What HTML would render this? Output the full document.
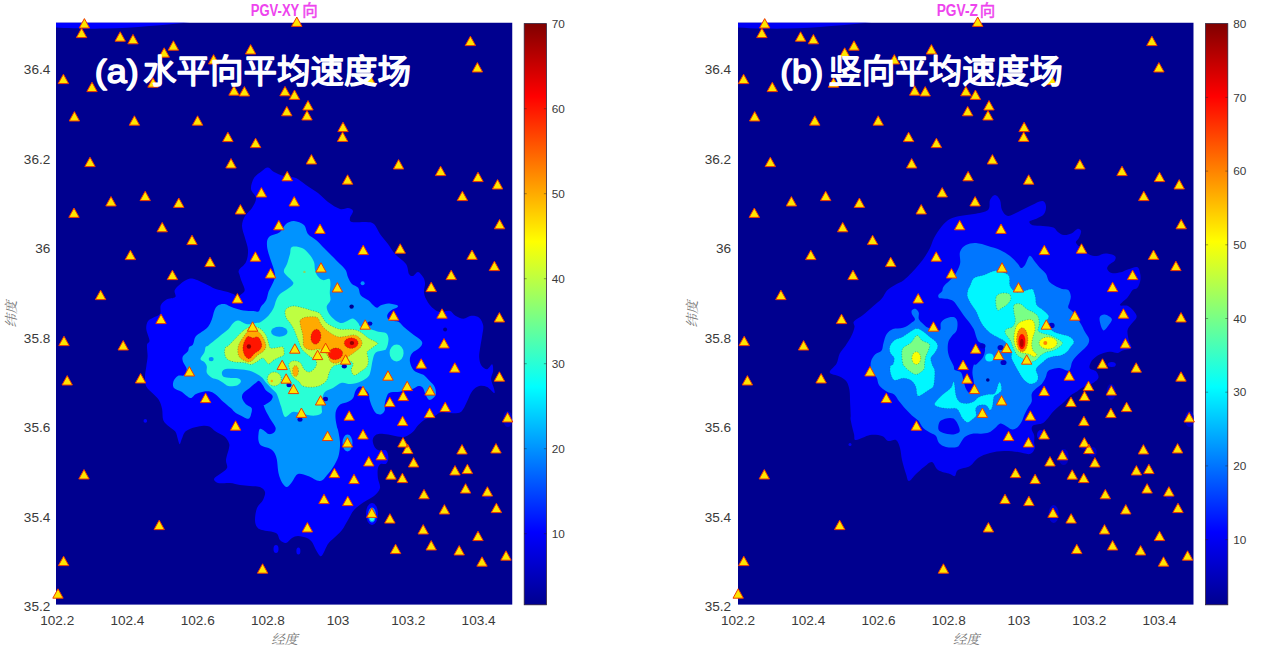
<!DOCTYPE html>
<html><head><meta charset="utf-8"><title>PGV</title>
<style>html,body{margin:0;padding:0;background:#fff}svg{display:block}</style></head><body>
<svg width="1269" height="656" viewBox="0 0 1269 656">
<defs><linearGradient id="jet" x1="0" y1="1" x2="0" y2="0"><stop offset="0" stop-color="#00008F"/><stop offset=".125" stop-color="#0000FF"/><stop offset=".375" stop-color="#00FFFF"/><stop offset=".625" stop-color="#FFFF00"/><stop offset=".875" stop-color="#FF0000"/><stop offset="1" stop-color="#800000"/></linearGradient><clipPath id="cl"><rect x="56" y="22.5" width="456.5" height="582.3"/></clipPath><clipPath id="cr"><rect x="738" y="22.5" width="455.7" height="582.3"/></clipPath></defs>
<rect width="1269" height="656" fill="#fff"/>
<g clip-path="url(#cl)"><rect x="56" y="22.5" width="456.5" height="582.3" fill="#00008F"/>
<path d="M56 22.5H190C165 24.5 135 28 105 28.6C85 28.8 68 28.4 56 27.5Z" fill="#0000FF"/>
<path d="M262.0 171.0C264.3 169.3 266.0 167.4 268.0 167.6C270.0 167.8 271.3 170.6 274.0 172.0C276.7 173.4 280.3 175.0 284.0 176.0C287.7 177.0 292.3 176.5 296.0 178.0C299.7 179.5 302.3 182.5 306.0 185.0C309.7 187.5 314.3 190.2 318.0 193.0C321.7 195.8 324.3 199.3 328.0 202.0C331.7 204.7 336.7 208.0 340.0 209.0C343.3 210.0 345.8 207.7 348.0 208.0C350.2 208.3 352.7 209.3 353.0 211.0C353.3 212.7 350.2 216.2 350.0 218.0C349.8 219.8 349.3 221.3 352.0 222.0C354.7 222.7 362.3 221.7 366.0 222.0C369.7 222.3 371.7 222.0 374.0 224.0C376.3 226.0 377.7 230.7 380.0 234.0C382.3 237.3 385.5 240.7 388.0 244.0C390.5 247.3 392.0 250.7 395.0 254.0C398.0 257.3 403.7 260.7 406.0 264.0C408.3 267.3 407.8 272.0 409.0 274.0C410.2 276.0 411.5 276.3 413.0 276.0C414.5 275.7 416.3 271.8 418.0 272.0C419.7 272.2 421.8 275.2 423.0 277.0C424.2 278.8 424.8 280.3 425.0 283.0C425.2 285.7 423.6 289.9 424.0 293.0C424.4 296.1 426.1 299.3 427.7 301.9C429.3 304.5 431.6 307.1 433.7 308.8C435.8 310.5 437.4 311.7 440.0 312.0C442.6 312.3 446.9 310.2 449.5 310.8C452.1 311.4 453.1 314.4 455.4 315.7C457.7 317.0 460.8 318.7 463.4 318.7C466.0 318.7 468.7 315.9 471.3 315.7C473.9 315.5 477.2 316.0 479.2 317.7C481.2 319.4 482.7 322.6 483.2 325.6C483.7 328.6 482.7 331.9 482.2 335.5C481.7 339.1 480.7 343.8 480.2 347.4C479.7 351.0 479.0 354.3 479.2 357.3C479.4 360.3 479.9 363.2 481.2 365.2C482.5 367.2 485.3 369.3 487.1 369.2C488.9 369.1 491.1 364.0 492.1 364.3C493.1 364.6 493.3 368.7 493.1 371.2C492.9 373.7 490.9 376.1 491.1 379.1C491.3 382.1 493.6 386.7 494.1 389.0C494.6 391.3 495.3 393.3 494.1 393.0C492.9 392.7 489.6 388.2 487.1 387.0C484.6 385.8 481.7 385.3 479.2 386.0C476.7 386.7 474.3 388.5 472.3 391.0C470.3 393.5 468.8 397.9 467.3 400.9C465.8 403.9 464.7 406.8 463.4 408.8C462.1 410.8 461.7 412.1 459.4 412.8C457.1 413.5 452.9 413.0 449.8 412.9C446.7 412.8 443.3 411.7 440.8 412.2C438.3 412.7 437.3 414.8 434.8 415.9C432.3 417.0 428.6 417.4 425.8 418.9C423.1 420.4 420.3 422.9 418.3 424.9C416.3 426.9 415.6 429.1 413.8 430.9C412.1 432.6 409.8 434.4 407.8 435.4C405.8 436.4 404.4 436.9 401.9 436.9C399.4 436.9 395.9 435.9 392.9 435.4C389.9 434.9 386.6 434.0 383.9 433.9C381.1 433.8 378.3 433.6 376.4 434.6C374.5 435.6 372.9 437.8 372.7 439.9C372.4 442.0 373.8 445.6 374.9 447.4C376.0 449.1 377.5 449.9 379.4 450.4C381.3 450.9 384.6 449.2 386.1 450.4C387.6 451.6 388.4 455.6 388.4 457.8C388.4 460.0 387.4 462.8 386.1 463.8C384.9 464.8 382.3 463.1 380.9 463.8C379.5 464.6 378.4 465.9 377.9 468.3C377.4 470.7 377.5 474.7 377.9 478.0C378.2 481.3 380.6 485.0 380.0 488.0C379.4 491.0 376.7 493.7 374.0 496.0C371.3 498.3 367.3 499.7 364.0 502.0C360.7 504.3 356.7 507.0 354.0 510.0C351.3 513.0 350.0 516.7 348.0 520.0C346.0 523.3 344.3 527.0 342.0 530.0C339.7 533.0 336.3 535.7 334.0 538.0C331.7 540.3 329.8 541.3 328.0 544.0C326.2 546.7 324.3 552.0 323.0 554.0C321.7 556.0 321.2 556.7 320.0 556.0C318.8 555.3 317.3 552.3 316.0 550.0C314.7 547.7 313.5 544.0 312.0 542.0C310.5 540.0 309.3 539.0 307.0 538.0C304.7 537.0 300.5 536.0 298.0 536.0C295.5 536.0 294.0 536.8 292.0 538.0C290.0 539.2 288.0 542.7 286.0 543.0C284.0 543.3 281.7 541.7 280.0 540.0C278.3 538.3 279.0 534.7 276.0 533.0C273.0 531.3 265.2 531.0 262.0 530.0C258.8 529.0 258.2 528.7 257.0 527.0C255.8 525.3 255.0 523.2 255.0 520.0C255.0 516.8 255.7 511.3 257.0 508.0C258.3 504.7 261.7 502.7 263.0 500.0C264.3 497.3 265.5 494.2 265.0 492.0C264.5 489.8 262.5 488.0 260.0 487.0C257.5 486.0 253.3 486.3 250.0 486.0C246.7 485.7 243.3 485.5 240.0 485.0C236.7 484.5 233.7 483.3 230.0 483.0C226.3 482.7 220.7 483.7 218.0 483.0C215.3 482.3 213.7 480.5 214.0 479.0C214.3 477.5 217.8 475.8 220.0 474.0C222.2 472.2 226.0 470.3 227.0 468.0C228.0 465.7 225.7 463.3 226.0 460.0C226.3 456.7 228.5 450.9 229.0 448.0C229.5 445.1 229.7 444.8 228.9 442.9C228.2 441.0 226.7 438.5 224.5 436.6C222.3 434.7 218.2 433.3 215.7 431.6C213.2 429.9 211.7 427.4 209.4 426.5C207.1 425.6 204.5 425.7 201.8 425.9C199.1 426.1 195.7 426.9 193.0 427.8C190.3 428.8 187.2 429.9 185.4 431.6C183.6 433.3 183.1 435.8 182.2 437.9C181.2 440.0 180.4 444.0 179.7 444.2C179.0 444.4 178.5 441.2 177.8 439.1C177.1 437.0 176.8 433.7 175.3 431.6C173.8 429.5 171.0 428.4 169.0 426.5C167.0 424.6 164.5 423.1 163.3 420.2C162.2 417.3 162.8 412.3 162.1 408.9C161.4 405.5 160.3 402.4 158.9 400.0C157.5 397.6 156.0 396.7 153.9 394.5C151.8 392.3 147.8 389.6 146.3 386.6C144.8 383.6 145.0 379.9 145.0 376.5C145.0 373.1 145.9 369.8 146.3 366.4C146.7 363.0 147.5 359.9 147.6 356.3C147.7 352.7 146.7 347.6 147.0 345.0C147.3 342.4 149.6 343.2 149.5 340.6C149.4 338.0 146.6 332.5 146.3 329.3C146.0 326.1 146.6 323.6 147.6 321.7C148.6 319.8 150.5 319.3 152.6 318.0C154.7 316.7 158.6 316.1 160.0 314.0C161.4 311.9 159.7 307.7 160.8 305.3C161.9 302.9 164.1 301.0 166.5 299.6C168.9 298.2 173.9 298.7 175.3 297.1C176.7 295.5 173.8 292.4 174.7 290.2C175.5 288.0 178.0 285.8 180.4 283.9C182.8 282.0 186.7 279.5 189.2 278.8C191.7 278.1 192.8 278.6 195.5 279.5C198.2 280.4 202.2 282.3 205.6 283.9C209.0 285.5 212.3 287.6 215.7 288.9C219.0 290.1 222.8 290.5 225.7 291.4C228.6 292.2 231.3 293.1 233.3 294.0C235.3 294.9 236.2 296.9 237.5 297.0C238.8 297.1 239.7 295.7 240.9 294.6C242.1 293.5 244.5 292.2 244.7 290.2C244.9 288.2 242.9 285.1 242.1 282.6C241.2 280.1 240.1 277.1 239.6 275.0C239.1 272.9 237.9 272.2 239.0 270.0C240.1 267.8 244.5 265.3 246.0 262.0C247.5 258.7 248.2 254.0 248.0 250.0C247.8 246.0 246.0 242.0 245.0 238.0C244.0 234.0 242.0 229.7 242.0 226.0C242.0 222.3 243.3 219.0 245.0 216.0C246.7 213.0 250.2 211.0 252.0 208.0C253.8 205.0 256.2 201.2 256.0 198.0C255.8 194.8 251.3 192.3 251.0 189.0C250.7 185.7 252.2 181.0 254.0 178.0C255.8 175.0 259.7 172.7 262.0 171.0Z" fill="#0000FF"/>
<ellipse cx="507.8" cy="419" rx="4.5" ry="8" fill="#0000C4"/>
<ellipse cx="298.4" cy="551" rx="2" ry="3.5" fill="#0000FF"/>
<ellipse cx="145.3" cy="420.9" rx="1.8" ry="1.8" fill="#0000FF"/>
<ellipse cx="276" cy="549" rx="2.5" ry="4" fill="#0000FF"/>
<ellipse cx="487.5" cy="494.5" rx="4" ry="5" fill="#0000C4"/>
<path d="M286.0 224.0C288.3 222.2 291.0 220.8 294.0 221.0C297.0 221.2 301.7 222.8 304.0 225.0C306.3 227.2 306.0 231.5 308.0 234.0C310.0 236.5 313.3 237.7 316.0 240.0C318.7 242.3 321.3 245.3 324.0 248.0C326.7 250.7 329.3 253.3 332.0 256.0C334.7 258.7 337.7 261.7 340.0 264.0C342.3 266.3 344.2 267.7 345.6 270.0C347.0 272.3 347.1 275.3 348.1 277.6C349.2 279.9 350.2 282.2 351.9 283.9C353.6 285.6 356.7 285.8 358.2 287.7C359.7 289.6 359.0 293.1 360.7 295.2C362.4 297.3 366.2 298.6 368.3 300.3C370.4 302.0 371.8 304.1 373.3 305.3C374.8 306.6 375.8 307.8 377.1 307.8C378.4 307.8 379.0 306.0 380.9 305.3C382.8 304.6 385.7 303.4 388.4 303.4C391.1 303.4 395.9 304.6 397.3 305.3C398.7 306.0 397.7 307.0 396.6 307.8C395.6 308.6 392.6 309.1 391.0 310.4C389.4 311.7 387.4 313.7 387.2 315.4C387.0 317.1 387.8 319.3 389.7 320.4C391.6 321.4 396.2 320.6 398.5 321.7C400.8 322.8 401.4 324.7 403.6 326.7C405.8 328.7 408.9 331.1 411.9 333.6C414.9 336.1 420.5 339.2 421.8 341.5C423.1 343.8 421.5 345.4 419.8 347.4C418.1 349.4 413.5 351.1 411.9 353.4C410.2 355.7 409.6 358.6 409.9 361.4C410.2 364.2 412.0 368.2 413.7 370.2C415.4 372.2 418.3 372.6 420.0 373.4C421.7 374.2 422.2 373.8 423.8 375.1C425.4 376.4 427.9 379.1 429.7 381.1C431.5 383.1 433.7 384.7 434.7 387.0C435.7 389.3 436.4 392.9 435.6 395.0C434.8 397.1 431.4 399.9 429.7 399.9C428.0 399.9 426.8 397.0 425.7 395.0C424.6 393.0 424.2 389.5 423.0 388.0C421.8 386.5 420.2 385.9 418.7 386.0C417.1 386.1 415.6 387.8 413.7 388.5C411.8 389.2 409.3 389.5 407.0 390.0C404.7 390.5 402.5 391.3 399.8 391.7C397.1 392.1 393.1 391.7 391.0 392.3C388.9 392.9 388.2 393.4 387.2 395.4C386.1 397.4 385.1 401.8 384.7 404.3C384.3 406.8 385.3 408.9 384.7 410.6C384.1 412.3 382.4 414.0 380.9 414.4C379.4 414.8 377.3 414.4 375.8 413.1C374.3 411.8 373.2 409.1 372.1 406.8C371.1 404.5 370.1 401.5 369.5 399.2C368.9 396.9 369.8 395.0 368.3 392.9C366.8 390.8 362.8 387.0 360.7 386.6C358.6 386.2 357.0 388.5 355.7 390.4C354.4 392.3 354.4 396.1 353.1 398.0C351.8 399.9 350.2 400.6 348.1 401.7C346.0 402.8 342.5 402.8 340.5 404.3C338.5 405.8 336.9 408.3 336.1 410.6C335.3 412.9 335.4 415.4 335.5 418.1C335.6 420.8 336.6 425.0 337.0 427.0C337.4 429.0 337.5 427.5 338.0 430.0C338.5 432.5 339.8 438.0 340.0 442.0C340.2 446.0 339.8 450.3 339.0 454.0C338.2 457.7 336.8 460.7 335.0 464.0C333.2 467.3 330.5 471.2 328.0 474.0C325.5 476.8 323.3 480.7 320.0 481.0C316.7 481.3 311.7 477.2 308.0 476.0C304.3 474.8 300.7 473.0 298.0 474.0C295.3 475.0 293.8 479.8 292.0 482.0C290.2 484.2 288.5 486.7 287.0 487.0C285.5 487.3 284.2 485.5 283.0 484.0C281.8 482.5 280.8 480.2 280.0 478.0C279.2 475.8 278.6 473.8 278.1 470.7C277.6 467.6 277.5 462.5 276.8 459.3C276.1 456.1 275.1 453.6 273.7 451.7C272.3 449.8 270.7 449.1 268.6 448.0C266.5 446.9 262.8 446.7 261.1 445.4C259.4 444.1 258.9 442.3 258.5 440.4C258.1 438.5 258.3 435.9 258.5 434.0C258.7 432.1 258.9 429.6 259.8 429.0C260.7 428.4 262.1 429.4 263.6 430.3C265.1 431.2 266.9 433.7 268.6 434.1C270.3 434.5 272.5 433.9 273.7 432.8C274.9 431.8 276.0 429.9 275.6 427.8C275.2 425.7 272.7 422.9 271.1 420.2C269.5 417.5 267.4 413.9 266.1 411.4C264.9 408.9 263.8 406.2 263.6 405.1C263.4 404.0 263.6 405.7 264.8 404.9C266.1 404.1 269.8 402.1 271.1 400.5C272.4 398.9 273.2 397.1 272.4 395.4C271.6 393.7 267.7 392.1 266.1 390.4C264.5 388.7 264.1 387.0 263.0 385.4C261.9 383.8 260.4 381.3 259.2 380.9C258.0 380.5 257.6 381.6 256.0 382.8C254.4 384.0 251.8 386.2 249.7 387.9C247.6 389.6 244.7 391.2 243.4 392.9C242.1 394.6 241.7 396.1 242.1 398.0C242.5 399.9 244.3 402.6 245.9 404.3C247.5 406.0 250.8 406.4 251.6 408.1C252.4 409.8 251.5 412.6 251.0 414.4C250.5 416.2 249.8 418.4 248.5 418.8C247.2 419.2 245.5 417.8 243.4 416.9C241.3 415.9 237.9 414.6 235.8 413.1C233.7 411.6 232.9 410.0 230.8 408.1C228.7 406.2 225.5 403.8 223.2 401.7C220.9 399.6 219.0 397.1 216.9 395.4C214.8 393.7 212.9 392.3 210.6 391.7C208.3 391.1 205.6 391.3 203.1 391.7C200.6 392.1 197.6 393.1 195.5 394.2C193.4 395.2 192.7 398.4 190.4 398.0C188.1 397.6 184.3 393.4 181.6 391.7C178.9 390.0 175.4 389.6 174.0 387.9C172.6 386.2 172.8 383.6 173.4 381.6C174.0 379.6 176.0 376.9 177.8 375.9C179.6 374.8 182.6 376.4 184.1 375.3C185.6 374.2 186.9 371.3 186.7 369.0C186.5 366.7 183.5 363.5 182.9 361.4C182.3 359.3 182.1 358.0 182.9 356.3C183.7 354.6 186.9 352.9 187.9 351.3C188.9 349.8 188.3 348.1 189.2 347.0C190.0 345.9 191.9 346.1 193.0 344.4C194.1 342.7 194.0 338.9 195.5 336.8C197.0 334.7 199.7 333.5 201.8 331.8C203.9 330.1 206.4 328.8 208.1 326.7C209.8 324.6 210.8 321.9 211.9 319.2C213.0 316.5 213.4 312.7 214.4 310.4C215.4 308.1 216.5 306.4 218.2 305.3C219.9 304.2 222.0 303.6 224.5 304.0C227.0 304.4 230.2 306.7 233.3 307.8C236.5 308.9 240.0 309.9 243.4 310.4C246.8 310.9 251.0 310.8 253.5 311.0C256.0 311.2 257.2 312.3 258.5 311.6C259.8 310.9 259.8 308.5 261.1 306.6C262.4 304.7 264.9 302.8 266.1 300.3C267.4 297.8 267.6 294.1 268.6 291.4C269.7 288.7 271.3 286.3 272.4 283.9C273.5 281.5 274.7 279.3 275.0 277.0C275.3 274.7 274.8 273.2 274.0 270.0C273.2 266.8 271.2 262.0 270.0 258.0C268.8 254.0 267.2 249.5 267.0 246.0C266.8 242.5 266.8 239.3 269.0 237.0C271.2 234.7 277.2 234.2 280.0 232.0C282.8 229.8 283.7 225.8 286.0 224.0Z" fill="#0093FF"/>
<ellipse cx="347.5" cy="443" rx="5" ry="8.5" fill="#0093FF"/>
<ellipse cx="372" cy="514" rx="6" ry="11" fill="#0000FF"/>
<ellipse cx="372" cy="515" rx="4" ry="7.5" fill="#0093FF"/>
<ellipse cx="372" cy="517" rx="2.5" ry="4" fill="#29FFD6"/>
<ellipse cx="362.6" cy="283.2" rx="2" ry="2" fill="#0093FF"/>
<ellipse cx="351.6" cy="306.6" rx="2.2" ry="2.2" fill="#00008F"/>
<ellipse cx="445.1" cy="329.6" rx="2" ry="2" fill="#00008F"/>
<path d="M292.0 247.0C294.0 246.0 299.2 246.8 302.0 248.0C304.8 249.2 307.0 251.7 309.0 254.0C311.0 256.3 313.0 259.3 314.0 262.0C315.0 264.7 314.4 267.6 315.0 270.0C315.6 272.4 316.5 274.6 317.8 276.3C319.1 278.0 321.0 279.7 322.9 280.1C324.8 280.5 327.9 278.2 329.2 278.8C330.4 279.4 330.3 281.6 330.4 283.9C330.5 286.2 329.8 290.0 329.8 292.7C329.8 295.4 330.9 298.0 330.4 300.3C329.9 302.6 326.9 304.3 326.7 306.6C326.5 308.9 327.7 311.8 329.2 314.1C330.7 316.4 333.4 318.9 335.5 320.4C337.6 321.9 339.7 323.0 341.8 323.0C343.9 323.0 346.2 321.1 348.1 320.4C350.0 319.6 351.4 318.1 353.1 318.5C354.8 318.9 356.9 321.6 358.2 323.0C359.5 324.4 358.6 325.6 360.7 326.7C362.8 327.8 367.9 328.4 370.8 329.3C373.8 330.2 375.9 331.2 378.4 331.8C380.9 332.4 384.2 331.9 385.9 333.0C387.6 334.1 388.1 336.2 388.4 338.1C388.7 340.0 388.2 342.6 387.8 344.4C387.4 346.2 386.5 348.1 386.0 349.0C385.5 349.9 386.4 349.4 384.7 350.0C383.0 350.6 377.8 350.9 375.8 352.6C373.8 354.3 373.5 357.2 372.7 360.1C371.9 363.0 371.5 367.5 370.8 370.2C370.1 372.9 370.0 374.6 368.3 376.5C366.6 378.4 363.6 380.3 360.7 381.6C357.8 382.9 353.8 383.9 350.6 384.1C347.5 384.3 344.7 382.2 341.8 382.8C338.9 383.4 335.9 386.2 333.0 387.9C330.1 389.6 326.0 390.0 324.1 392.9C322.2 395.8 322.0 402.1 321.6 405.5C321.2 408.9 322.7 411.4 321.6 413.1C320.6 414.8 317.6 415.3 315.3 415.6C313.0 415.9 310.2 415.4 307.7 415.0C305.1 414.6 302.5 413.5 300.0 413.0C297.5 412.5 295.1 411.4 292.6 412.0C290.1 412.6 286.9 417.8 285.0 416.9C283.1 416.0 282.2 409.8 281.2 406.8C280.1 403.9 279.5 401.5 278.7 399.2C277.9 396.9 277.5 394.8 276.2 392.9C274.9 391.0 272.8 389.6 271.1 387.9C269.4 386.2 267.6 384.5 266.1 382.8C264.6 381.1 264.0 379.4 262.3 377.8C260.6 376.2 258.5 374.7 256.0 373.4C253.5 372.1 250.6 370.9 247.2 370.2C243.8 369.5 239.4 369.2 235.8 369.0C232.2 368.8 228.0 368.5 225.7 369.0C223.4 369.5 222.4 370.9 222.0 372.1C221.6 373.4 222.1 375.6 223.2 376.5C224.2 377.4 225.8 377.5 228.3 377.8C230.8 378.1 236.3 377.8 238.4 378.4C240.5 379.0 241.1 380.4 240.9 381.6C240.7 382.8 239.2 384.7 237.1 385.4C235.0 386.1 230.6 386.4 228.3 386.0C226.0 385.6 224.9 383.9 223.2 382.8C221.5 381.8 220.1 380.5 218.2 379.7C216.3 378.9 213.8 379.0 211.9 377.8C210.0 376.6 207.7 374.6 206.8 372.7C206.0 370.8 207.2 368.2 206.8 366.4C206.4 364.6 205.4 363.2 204.3 362.0C203.2 360.8 200.5 360.5 200.5 358.9C200.5 357.3 203.5 354.6 204.3 352.6C205.2 350.6 205.0 348.1 205.6 347.0C206.2 345.9 206.6 346.8 208.1 345.7C209.6 344.6 212.1 342.5 214.4 340.6C216.7 338.7 219.7 336.2 222.0 334.3C224.3 332.4 226.4 331.2 228.3 329.3C230.2 327.4 231.6 324.5 233.3 323.0C235.0 321.5 236.1 320.2 238.4 320.4C240.7 320.6 244.3 323.8 247.2 324.2C250.1 324.6 253.7 323.4 256.0 323.0C258.3 322.6 259.0 323.0 261.1 321.7C263.2 320.4 266.5 317.7 268.6 315.4C270.7 313.1 272.4 310.3 273.7 307.8C275.0 305.3 275.1 302.6 276.2 300.3C277.2 298.0 278.1 295.9 280.0 294.0C281.9 292.1 285.3 290.6 287.5 288.9C289.7 287.2 292.6 285.4 293.2 283.9C293.8 282.4 292.7 281.8 291.3 280.1C289.9 278.4 286.2 275.5 285.0 273.8C283.8 272.1 283.7 271.6 284.0 270.0C284.3 268.4 286.0 266.7 287.0 264.0C288.0 261.3 289.2 256.8 290.0 254.0C290.8 251.2 290.0 248.0 292.0 247.0Z" fill="#29FFD6"/>
<ellipse cx="396.6" cy="353" rx="7" ry="8.5" fill="#29FFD6"/>
<ellipse cx="279.3" cy="331.8" rx="8.2" ry="5" fill="#0093FF"/>
<ellipse cx="211.2" cy="359.1" rx="2.5" ry="2.2" fill="#0093FF"/>
<ellipse cx="304.4" cy="271.9" rx="1.2" ry="1.2" fill="#8fd060"/>
<path d="M243.4 330.5C245.8 328.6 247.9 327.6 250.0 327.0C252.1 326.4 254.2 326.6 256.0 327.0C257.9 327.4 259.4 327.9 261.1 329.3C262.8 330.7 264.9 333.3 266.1 335.6C267.4 337.9 267.8 341.0 268.6 343.1C269.4 345.2 268.8 347.6 271.1 348.2C273.4 348.8 280.4 346.6 282.5 346.9C284.6 347.2 283.6 348.6 283.8 350.0C284.0 351.4 284.7 353.8 283.8 355.1C282.9 356.4 280.4 356.8 278.7 357.6C277.0 358.4 275.4 359.1 273.7 360.1C272.0 361.2 270.4 364.2 268.6 363.9C266.8 363.6 264.9 358.6 263.0 358.2C261.1 357.8 259.3 360.3 257.3 361.4C255.3 362.4 253.1 364.3 251.0 364.5C248.9 364.7 247.4 363.1 244.7 362.7C242.0 362.3 237.5 362.6 234.6 362.0C231.7 361.4 228.7 360.5 227.0 358.9C225.3 357.3 224.7 354.6 224.5 352.6C224.3 350.6 225.1 348.1 225.7 347.0C226.3 345.9 226.6 347.2 228.3 345.7C230.0 344.2 233.3 340.6 235.8 338.1C238.3 335.6 241.0 332.4 243.4 330.5Z" fill="#BEFF41" stroke="#1a1a30" stroke-opacity=".42" stroke-width=".8" stroke-dasharray="1 1.6"/>
<path d="M285.0 311.6C285.2 309.9 286.1 308.8 287.6 307.8C289.1 306.9 291.4 305.9 293.9 305.9C296.4 305.9 299.8 307.1 302.7 307.8C305.6 308.6 308.8 309.5 311.5 310.4C314.2 311.2 317.2 311.6 319.1 312.9C321.0 314.1 321.6 316.2 322.9 317.9C324.2 319.6 325.0 321.5 326.7 323.0C328.4 324.5 330.7 325.6 333.0 326.7C335.3 327.8 338.0 328.9 340.5 329.3C343.0 329.7 345.6 329.2 348.1 329.3C350.6 329.4 353.4 329.3 355.7 329.9C358.0 330.5 359.9 331.6 362.0 333.0C364.1 334.4 366.0 336.6 368.3 338.1C370.6 339.6 374.2 340.9 375.8 341.9C377.4 342.8 378.1 343.0 377.7 343.8C377.3 344.6 374.9 345.8 373.3 346.9C371.7 348.0 369.4 349.8 368.3 350.7C367.2 351.6 367.0 351.0 367.0 352.6C367.0 354.2 368.3 357.8 368.3 360.1C368.3 362.4 368.3 364.5 367.0 366.4C365.7 368.3 362.8 370.0 360.7 371.5C358.6 373.0 356.0 375.5 354.4 375.3C352.8 375.1 351.4 372.1 351.2 370.2C351.0 368.3 353.5 365.4 353.1 363.9C352.7 362.4 351.1 361.0 349.0 361.0C346.9 361.0 343.2 363.0 340.5 363.9C337.8 364.8 334.9 364.9 333.0 366.4C331.1 367.9 330.2 370.4 329.2 372.7C328.1 375.0 328.2 378.2 326.7 380.3C325.2 382.4 322.9 384.2 320.4 385.4C317.9 386.5 314.4 387.1 311.5 387.2C308.6 387.3 304.8 386.9 302.7 386.0C300.6 385.1 300.6 383.2 298.9 381.6C297.2 380.0 294.1 378.4 292.6 376.5C291.1 374.6 290.7 372.3 290.1 370.2C289.5 368.1 288.2 365.5 288.8 363.9C289.4 362.3 292.0 361.0 293.9 360.8C295.8 360.6 298.5 361.3 300.2 362.7C301.9 364.1 302.5 367.4 304.0 369.0C305.5 370.6 307.3 372.1 309.0 372.1C310.7 372.1 312.7 370.4 314.0 369.0C315.3 367.6 316.4 365.6 316.6 363.9C316.8 362.2 315.9 360.1 315.0 359.0C314.1 357.9 313.1 358.7 311.5 357.6C309.9 356.5 306.9 354.2 305.2 352.6C303.5 351.0 302.4 350.0 301.4 348.2C300.3 346.4 299.7 344.0 298.9 341.9C298.1 339.8 297.2 337.7 296.4 335.6C295.6 333.5 294.9 331.4 293.9 329.3C292.8 327.2 291.4 324.9 290.1 323.0C288.8 321.1 287.2 319.8 286.3 317.9C285.4 316.0 284.8 313.3 285.0 311.6Z" fill="#BEFF41" stroke="#1a1a30" stroke-opacity=".42" stroke-width=".8" stroke-dasharray="1 1.6"/>
<ellipse cx="274.3" cy="379" rx="7" ry="7" fill="#BEFF41" stroke="#1a1a30" stroke-opacity=".42" stroke-width=".8" stroke-dasharray="1 1.6"/>
<path d="M249.7 331.0C251.2 330.7 254.4 330.7 256.0 331.0C257.6 331.3 258.1 331.5 259.3 332.6C260.5 333.7 262.1 335.8 263.1 337.7C264.2 339.6 265.2 342.3 265.6 344.0C266.0 345.7 266.0 346.4 265.6 347.7C265.2 348.9 264.2 350.4 263.1 351.5C262.1 352.6 260.6 353.1 259.3 354.0C258.0 354.9 256.7 356.1 255.5 357.2C254.3 358.3 253.5 359.7 252.3 360.5C251.1 361.3 249.7 361.9 248.5 362.0C247.3 362.1 246.6 361.5 245.4 361.0C244.2 360.5 242.8 360.1 241.6 359.1C240.4 358.2 239.1 356.9 238.5 355.3C237.9 353.7 237.7 351.5 237.8 349.6C237.9 347.7 238.2 346.0 239.1 344.0C239.9 342.0 241.6 339.6 242.9 337.7C244.2 335.8 245.6 333.7 246.7 332.6C247.8 331.5 248.1 331.3 249.7 331.0Z" fill="#FFAA00" stroke="#1a1a30" stroke-opacity=".42" stroke-width=".8" stroke-dasharray="1 1.6"/>
<path d="M300.2 320.4C300.9 318.8 303.1 317.9 305.2 317.3C307.3 316.7 310.7 316.6 312.8 316.7C314.9 316.8 316.5 316.8 317.8 317.9C319.1 318.9 319.3 321.3 320.4 323.0C321.4 324.7 322.4 326.3 324.1 328.0C325.8 329.7 328.1 331.5 330.4 333.0C332.7 334.5 335.6 336.2 338.0 336.8C340.4 337.4 342.0 336.9 344.5 336.6C347.0 336.3 350.8 334.9 353.1 334.9C355.4 334.9 356.7 335.6 358.2 336.8C359.7 338.0 361.6 340.2 362.0 341.9C362.4 343.6 361.8 345.3 360.7 346.9C359.6 348.5 357.4 349.9 355.7 351.3C354.0 352.7 352.4 353.8 350.6 355.1C348.8 356.4 346.7 357.9 345.0 359.0C343.3 360.1 342.1 360.7 340.5 361.4C338.9 362.1 337.2 363.3 335.5 363.3C333.8 363.3 331.7 362.6 330.4 361.4C329.1 360.2 329.0 358.0 327.9 356.3C326.8 354.6 325.6 352.2 324.0 351.0C322.4 349.8 319.9 349.2 318.0 349.0C316.1 348.8 314.7 350.0 312.8 350.0C310.9 350.0 308.1 349.6 306.5 348.8C304.9 348.0 303.8 346.1 303.3 345.0C302.8 343.9 303.4 343.7 303.3 341.9C303.2 340.1 303.1 336.8 302.7 334.3C302.3 331.8 301.2 329.0 300.8 326.7C300.4 324.4 299.5 322.0 300.2 320.4Z" fill="#FFAA00" stroke="#1a1a30" stroke-opacity=".42" stroke-width=".8" stroke-dasharray="1 1.6"/>
<ellipse cx="295.5" cy="371" rx="3" ry="5.5" fill="#FFAA00" stroke="#1a1a30" stroke-opacity=".42" stroke-width=".8" stroke-dasharray="1 1.6"/>
<ellipse cx="271.8" cy="381" rx="1.2" ry="1.2" fill="#FFAA00"/>
<path d="M247.9 336.4C249.2 336.1 251.5 337.9 253.0 338.0C254.5 338.1 255.6 336.6 256.7 336.7C257.8 336.8 258.5 337.2 259.3 338.3C260.1 339.4 261.1 341.8 261.5 343.3C261.9 344.8 261.9 345.9 261.5 347.1C261.1 348.3 260.3 349.4 259.3 350.3C258.3 351.2 256.7 351.9 255.5 352.8C254.3 353.7 253.2 354.9 252.3 355.9C251.4 356.8 250.7 358.2 249.8 358.5C248.9 358.8 247.6 358.6 246.7 357.8C245.8 357.1 244.7 355.5 244.1 354.0C243.5 352.5 243.0 350.7 242.9 349.0C242.8 347.3 243.1 345.6 243.5 344.0C243.9 342.4 244.7 340.8 245.4 339.5C246.1 338.2 246.6 336.6 247.9 336.4Z" fill="#FF1500" stroke="#1a1a30" stroke-opacity=".42" stroke-width=".8" stroke-dasharray="1 1.6"/>
<ellipse cx="315.9" cy="336.8" rx="5" ry="7.5" fill="#FF1500" transform="rotate(8 315.9 336.8)" stroke="#1a1a30" stroke-opacity=".42" stroke-width=".8" stroke-dasharray="1 1.6"/>
<ellipse cx="351.2" cy="343.1" rx="7" ry="5.3" fill="#FF1500" stroke="#1a1a30" stroke-opacity=".42" stroke-width=".8" stroke-dasharray="1 1.6"/>
<ellipse cx="335.5" cy="353.8" rx="7.2" ry="5.8" fill="#FF1500" transform="rotate(-10 335.5 353.8)" stroke="#1a1a30" stroke-opacity=".42" stroke-width=".8" stroke-dasharray="1 1.6"/>
<ellipse cx="248.9" cy="346.5" rx="2.2" ry="2.2" fill="#900000"/>
<ellipse cx="351.9" cy="343.1" rx="2.2" ry="2" fill="#900000"/>
<ellipse cx="289" cy="385" rx="2.6" ry="2.2" fill="#0000C8"/>
<ellipse cx="344.3" cy="366.2" rx="2.6" ry="2.2" fill="#0000C8"/>
<ellipse cx="325.5" cy="399" rx="2.6" ry="2.2" fill="#0000C8"/>
<ellipse cx="300" cy="419.5" rx="2.6" ry="2.2" fill="#0000C8"/>
<ellipse cx="369.8" cy="323.6" rx="2.6" ry="2.2" fill="#0000C8"/></g>
<g clip-path="url(#cr)"><rect x="738" y="22.5" width="455.7" height="582.3" fill="#00008F"/>
<path d="M737.7 22.5H871.7C846.7 24.5 816.7 28 786.7 28.6C766.7 28.8 749.7 28.4 737.7 27.5Z" fill="#0000F4"/>
<path d="M995.0 195.0C996.7 195.0 998.8 197.5 1000.0 200.0C1001.2 202.5 1000.7 207.3 1002.0 210.0C1003.3 212.7 1005.3 215.7 1008.0 216.0C1010.7 216.3 1014.3 213.7 1018.0 212.0C1021.7 210.3 1026.0 207.8 1030.0 206.0C1034.0 204.2 1039.3 201.0 1042.0 201.0C1044.7 201.0 1045.7 203.8 1046.0 206.0C1046.3 208.2 1045.5 211.9 1044.0 214.0C1042.5 216.1 1039.3 217.2 1036.9 218.4C1034.5 219.6 1030.2 220.3 1029.5 221.4C1028.8 222.5 1030.3 224.4 1032.5 225.2C1034.7 225.9 1039.4 225.5 1042.9 225.9C1046.4 226.3 1050.9 226.4 1053.4 227.4C1055.9 228.4 1056.2 230.7 1057.9 231.9C1059.7 233.2 1061.7 234.7 1063.9 234.9C1066.2 235.2 1069.2 234.4 1071.4 233.4C1073.7 232.4 1075.8 229.3 1077.4 228.9C1079.0 228.5 1080.8 229.7 1081.1 231.2C1081.3 232.7 1079.8 236.0 1078.9 237.9C1078.0 239.8 1075.6 240.7 1075.9 242.4C1076.2 244.1 1078.8 246.0 1081.0 248.0C1083.2 250.0 1086.7 253.1 1089.3 254.4C1091.9 255.7 1094.0 256.0 1096.8 255.9C1099.5 255.8 1102.8 253.6 1105.8 253.6C1108.8 253.6 1113.3 254.8 1114.8 255.9C1116.3 257.0 1115.8 258.9 1114.8 260.4C1113.8 261.9 1110.0 263.4 1108.8 264.9C1107.5 266.4 1106.8 267.9 1107.3 269.3C1107.8 270.7 1109.5 272.6 1111.8 273.1C1114.0 273.6 1118.0 272.9 1120.8 272.3C1123.5 271.7 1125.6 270.2 1128.3 269.3C1131.0 268.4 1135.2 266.4 1137.2 267.1C1139.2 267.9 1139.7 271.4 1140.2 273.8C1140.7 276.2 1140.7 278.9 1140.2 281.3C1139.7 283.7 1138.5 286.6 1137.2 288.0C1135.9 289.4 1134.2 288.4 1132.6 290.0C1131.0 291.6 1129.6 295.1 1127.5 297.6C1125.4 300.1 1119.9 303.7 1120.0 305.1C1120.1 306.5 1125.5 304.7 1128.0 306.0C1130.5 307.3 1133.6 310.8 1135.0 312.7C1136.4 314.6 1137.0 315.8 1136.4 317.7C1135.8 319.6 1132.8 321.9 1131.3 324.0C1129.8 326.1 1127.9 327.7 1127.5 330.4C1127.1 333.1 1128.2 337.5 1128.8 340.4C1129.4 343.3 1132.3 346.3 1131.3 348.0C1130.2 349.7 1124.8 349.6 1122.5 350.5C1120.2 351.4 1119.4 352.9 1117.5 353.1C1115.6 353.3 1113.4 351.8 1111.1 351.8C1108.8 351.8 1106.1 352.3 1103.6 353.1C1101.1 353.9 1098.1 355.3 1096.0 356.8C1093.9 358.3 1092.0 360.0 1091.0 361.9C1090.0 363.8 1088.9 366.6 1089.7 368.2C1090.5 369.8 1094.5 369.7 1096.0 371.3C1097.5 372.9 1098.9 375.7 1098.5 377.6C1098.1 379.5 1096.2 381.0 1093.5 382.7C1090.8 384.4 1084.8 386.2 1082.1 387.7C1079.4 389.2 1079.0 390.2 1077.1 391.5C1075.2 392.8 1073.1 393.4 1070.8 395.3C1068.5 397.2 1065.5 400.7 1063.2 402.8C1060.9 404.9 1058.8 406.2 1056.9 407.9C1055.0 409.6 1053.4 411.2 1051.9 412.9C1050.4 414.6 1049.6 416.3 1048.1 418.0C1046.6 419.7 1044.8 421.9 1043.1 423.0C1041.4 424.1 1039.7 423.9 1038.0 424.3C1036.3 424.7 1034.0 424.7 1033.0 425.5C1032.0 426.3 1031.5 427.6 1031.7 429.3C1031.9 431.0 1033.8 433.3 1034.2 435.6C1034.6 437.9 1034.1 441.1 1034.2 443.2C1034.3 445.3 1035.7 446.2 1035.0 448.0C1034.3 449.8 1032.8 453.3 1030.0 454.0C1027.2 454.7 1022.3 452.5 1018.0 452.0C1013.7 451.5 1008.7 450.8 1004.0 451.0C999.3 451.2 994.3 451.8 990.0 453.0C985.7 454.2 981.3 455.8 978.0 458.0C974.7 460.2 973.3 464.0 970.0 466.0C966.7 468.0 960.5 468.3 958.0 470.0C955.5 471.7 956.3 475.3 955.0 476.0C953.7 476.7 952.8 475.0 950.0 474.0C947.2 473.0 941.0 472.0 938.0 470.0C935.0 468.0 934.3 462.5 932.0 462.0C929.7 461.5 926.7 465.0 924.0 467.0C921.3 469.0 918.5 471.7 916.0 474.0C913.5 476.3 910.7 481.0 909.0 481.0C907.3 481.0 907.2 477.5 906.0 474.0C904.8 470.5 903.0 464.3 902.0 460.0C901.0 455.7 901.0 451.3 900.0 448.0C899.0 444.7 898.0 441.2 896.0 440.0C894.0 438.8 890.3 441.7 888.0 441.0C885.7 440.3 885.0 437.0 882.0 436.0C879.0 435.0 874.3 434.3 870.0 435.0C865.7 435.7 858.7 440.2 856.0 440.0C853.3 439.8 854.9 437.3 854.0 434.0C853.1 430.7 851.2 423.1 850.7 420.0C850.2 416.9 850.8 418.3 850.7 415.4C850.6 412.5 850.3 407.0 850.1 402.8C849.9 398.6 850.1 393.8 849.5 390.2C848.9 386.6 848.1 383.7 846.5 381.4C844.9 379.1 842.4 377.9 839.6 376.4C836.8 374.9 830.2 374.6 829.7 372.5C829.2 370.4 835.0 366.7 836.6 363.6C838.2 360.5 838.1 356.7 839.6 353.7C841.1 350.7 843.5 348.7 845.5 345.7C847.5 342.7 850.0 338.9 851.5 335.8C853.0 332.7 854.1 329.4 854.5 327.0C854.9 324.6 852.5 323.5 853.9 321.5C855.3 319.5 859.6 317.7 862.7 315.2C865.9 312.7 869.6 309.1 872.8 306.4C875.9 303.7 879.2 301.4 881.6 298.8C884.0 296.2 884.8 292.8 887.0 290.5C889.2 288.2 892.2 286.8 895.0 285.0C897.8 283.2 900.5 282.8 904.0 280.0C907.5 277.2 912.7 271.7 916.0 268.0C919.3 264.3 921.7 261.3 924.0 258.0C926.3 254.7 928.3 251.3 930.0 248.0C931.7 244.7 932.0 241.7 934.0 238.0C936.0 234.3 939.3 229.2 942.0 226.0C944.7 222.8 947.0 220.7 950.0 219.0C953.0 217.3 956.0 216.8 960.0 216.0C964.0 215.2 969.3 215.0 974.0 214.0C978.7 213.0 985.3 212.3 988.0 210.0C990.7 207.7 988.8 202.5 990.0 200.0C991.2 197.5 993.3 195.0 995.0 195.0Z" fill="#0000F4"/>
<ellipse cx="1111.1" cy="392" rx="4.5" ry="8" fill="#0000C4"/>
<ellipse cx="1111.8" cy="364.4" rx="4" ry="2.5" fill="#0000F4"/>
<ellipse cx="1189.5" cy="419" rx="4.5" ry="8" fill="#0000C4"/>
<ellipse cx="1063.7" cy="457" rx="5" ry="8" fill="#0000C4"/>
<ellipse cx="1084.7" cy="446.5" rx="4" ry="3" fill="#0000C4"/>
<ellipse cx="1092.7" cy="452" rx="4" ry="5" fill="#0000C4"/>
<ellipse cx="1169.2" cy="494.5" rx="4" ry="5" fill="#0000C4"/>
<ellipse cx="1053.7" cy="514" rx="5" ry="9" fill="#0000D0"/>
<ellipse cx="850" cy="444.4" rx="1.5" ry="1.5" fill="#0000F4"/>
<ellipse cx="1041" cy="435" rx="4" ry="5" fill="#0000F4"/>
<path d="M966.0 245.0C968.7 243.5 972.3 242.8 976.0 243.0C979.7 243.2 984.0 244.8 988.0 246.0C992.0 247.2 996.3 248.3 1000.0 250.0C1003.7 251.7 1007.0 253.7 1010.0 256.0C1013.0 258.3 1016.2 262.0 1018.0 264.0C1019.8 266.0 1019.8 267.9 1021.0 268.0C1022.2 268.1 1023.6 266.9 1025.0 264.9C1026.4 262.9 1028.0 256.6 1029.5 255.9C1031.0 255.2 1032.3 258.4 1034.0 260.4C1035.7 262.4 1037.9 265.6 1039.9 267.8C1041.9 270.0 1044.4 271.6 1045.9 273.8C1047.4 276.1 1047.4 279.3 1048.9 281.3C1050.4 283.3 1052.7 284.5 1054.9 285.8C1057.1 287.1 1059.8 288.3 1062.0 289.0C1064.2 289.7 1066.8 288.8 1068.3 290.0C1069.8 291.2 1070.6 294.2 1070.8 296.3C1071.0 298.4 1069.9 300.7 1069.5 302.6C1069.1 304.5 1067.7 306.1 1068.3 307.7C1068.9 309.3 1070.9 309.3 1073.0 312.0C1075.1 314.7 1079.0 320.7 1080.9 324.0C1082.9 327.3 1083.3 329.1 1084.7 331.6C1086.1 334.1 1088.7 336.9 1089.1 339.2C1089.5 341.5 1088.6 343.4 1087.2 345.5C1085.8 347.6 1082.8 349.9 1080.9 351.8C1079.0 353.7 1077.3 355.1 1075.8 356.8C1074.3 358.5 1072.9 360.2 1072.1 361.9C1071.3 363.6 1071.4 365.4 1070.8 366.9C1070.2 368.4 1070.0 370.5 1068.3 370.7C1066.6 370.9 1063.0 368.6 1060.7 368.2C1058.4 367.8 1056.5 368.0 1054.4 368.5C1052.3 369.0 1049.6 369.5 1048.1 371.0C1046.6 372.5 1046.6 375.5 1045.6 377.6C1044.5 379.8 1043.5 382.0 1041.8 383.9C1040.1 385.8 1037.2 387.3 1035.5 389.0C1033.8 390.7 1032.3 391.9 1031.7 394.0C1031.1 396.1 1032.3 399.3 1031.7 401.6C1031.1 403.9 1029.2 405.6 1027.9 407.9C1026.6 410.2 1025.1 413.1 1024.1 415.4C1023.0 417.7 1022.9 419.6 1021.6 421.7C1020.4 423.8 1018.3 426.8 1016.6 428.1C1014.9 429.4 1013.4 429.7 1011.5 429.3C1009.6 428.9 1007.1 426.4 1005.2 425.5C1003.3 424.6 1001.9 423.2 1000.2 423.6C998.5 424.0 997.0 426.5 995.1 428.0C993.2 429.5 991.1 431.6 988.8 432.5C986.5 433.4 983.9 433.5 981.2 433.7C978.5 433.9 975.1 433.2 972.4 433.7C969.7 434.2 966.7 435.5 964.8 436.9C962.9 438.3 962.4 440.2 961.1 441.9C959.8 443.6 959.5 446.1 957.0 447.0C954.5 447.9 949.0 447.7 946.0 447.0C943.0 446.3 940.7 444.8 939.0 443.0C937.3 441.2 937.4 437.6 936.0 436.0C934.6 434.4 932.9 434.4 930.8 433.1C928.7 431.8 925.3 430.1 923.2 428.0C921.1 425.9 920.1 422.6 918.2 420.5C916.3 418.4 914.0 417.3 911.9 415.4C909.8 413.5 907.7 411.4 905.6 409.1C903.5 406.8 901.2 404.0 899.3 401.6C897.4 399.2 896.3 396.3 894.2 394.6C892.1 392.9 889.2 393.1 886.7 391.5C884.2 389.9 880.8 387.5 879.1 385.2C877.4 382.9 877.9 379.8 876.6 377.6C875.3 375.4 872.5 374.6 871.5 372.0C870.5 369.4 870.3 364.8 870.9 361.9C871.5 358.9 873.5 356.2 875.3 354.3C877.1 352.4 880.2 352.4 881.6 350.5C883.0 348.6 882.6 345.7 883.5 343.0C884.4 340.3 885.1 336.4 886.7 334.1C888.3 331.8 890.3 330.2 893.0 329.1C895.7 328.1 900.1 328.8 903.0 327.8C905.9 326.9 908.6 324.8 910.6 323.4C912.6 322.0 914.8 321.2 915.0 319.6C915.2 318.0 912.4 315.6 911.9 314.0C911.4 312.4 911.3 311.1 911.9 310.2C912.5 309.3 914.6 308.5 915.7 308.9C916.9 309.3 918.3 311.0 918.8 312.7C919.3 314.4 918.1 317.1 918.8 319.0C919.5 320.9 921.6 322.5 923.2 324.0C924.8 325.5 925.5 326.7 928.2 327.8C930.9 328.9 937.5 331.2 939.6 330.4C941.7 329.6 939.9 324.8 940.9 322.8C941.9 320.8 943.8 319.3 945.9 318.4C948.0 317.4 951.6 316.6 953.5 317.1C955.4 317.6 956.8 319.3 957.3 321.5C957.8 323.7 957.5 328.1 956.6 330.4C955.8 332.7 953.6 333.5 952.2 335.4C950.8 337.3 949.1 339.2 948.4 341.7C947.7 344.2 947.6 347.8 947.8 350.5C948.0 353.2 948.8 355.6 949.7 358.1C950.7 360.6 952.6 363.7 953.5 365.7C954.4 367.7 953.5 368.9 954.8 370.0C956.1 371.1 959.6 370.7 961.1 372.6C962.6 374.5 962.8 378.7 963.6 381.4C964.4 384.1 965.1 387.0 966.1 389.0C967.1 391.0 968.4 392.9 969.9 393.4C971.4 393.9 974.4 394.0 975.0 392.0C975.6 390.0 974.1 384.6 973.7 381.4C973.3 378.2 972.4 375.3 972.4 372.6C972.4 369.9 973.1 366.4 973.7 365.0C974.3 363.6 974.7 365.5 976.2 364.4C977.7 363.2 981.0 360.4 982.5 358.1C984.0 355.8 984.8 352.8 985.0 350.5C985.2 348.2 984.8 345.7 983.8 344.2C982.8 342.7 980.0 342.9 978.7 341.7C977.4 340.4 977.0 338.8 976.2 336.7C975.4 334.6 975.0 331.6 973.7 329.1C972.4 326.6 970.3 323.8 968.6 321.5C966.9 319.2 965.3 317.5 963.6 315.2C961.9 312.9 960.2 310.0 958.5 307.7C956.8 305.4 955.4 302.8 953.5 301.3C951.6 299.8 949.5 299.3 947.2 298.8C944.9 298.3 941.1 298.8 939.6 298.2C938.1 297.6 938.0 296.1 938.4 295.0C938.8 293.9 941.2 292.8 942.1 291.3C943.0 289.8 942.0 288.6 944.0 286.0C946.0 283.4 951.3 279.7 954.0 276.0C956.7 272.3 959.0 268.0 960.0 264.0C961.0 260.0 959.0 255.2 960.0 252.0C961.0 248.8 963.3 246.5 966.0 245.0Z" fill="#0076FF"/>
<path d="M940.9 420.5C943.4 418.7 950.4 416.9 953.5 418.6C956.6 420.3 959.8 428.0 959.8 430.6C959.8 433.2 956.2 434.0 953.5 434.4C950.8 434.8 945.9 434.0 943.4 433.1C940.9 432.2 938.8 431.4 938.4 429.3C938.0 427.2 938.4 422.3 940.9 420.5Z" fill="#0000F4"/>
<path d="M1099.8 317.1C1100.5 315.5 1102.8 314.3 1104.8 314.6C1106.8 314.9 1111.2 317.2 1111.8 319.0C1112.4 320.8 1110.0 323.4 1108.6 325.3C1107.2 327.2 1105.0 330.6 1103.6 330.4C1102.2 330.2 1101.0 326.2 1100.4 324.0C1099.8 321.8 1099.1 318.7 1099.8 317.1Z" fill="#0076FF"/>
<ellipse cx="987.8" cy="380" rx="1.8" ry="1.8" fill="#00008F"/>
<path d="M974.0 278.0C976.3 276.2 980.7 276.2 984.0 275.0C987.3 273.8 991.0 271.5 994.0 271.0C997.0 270.5 999.5 271.2 1002.0 272.0C1004.5 272.8 1007.7 273.7 1009.0 276.0C1010.3 278.3 1008.8 283.3 1010.0 286.0C1011.2 288.7 1013.7 291.2 1016.0 292.0C1018.3 292.8 1021.3 291.5 1024.0 291.0C1026.7 290.5 1030.3 288.7 1032.0 289.0C1033.7 289.3 1033.6 291.6 1034.2 293.0C1034.8 294.4 1035.1 295.6 1035.5 297.6C1035.9 299.6 1035.4 303.0 1036.7 305.1C1038.0 307.2 1041.1 308.4 1043.1 310.2C1045.1 312.0 1048.0 313.9 1048.7 315.9C1049.4 317.9 1046.5 319.6 1047.0 322.0C1047.5 324.4 1049.6 328.4 1051.9 330.4C1054.2 332.4 1057.8 333.1 1060.7 334.1C1063.6 335.2 1067.3 335.4 1069.5 336.7C1071.7 338.0 1073.7 340.0 1073.9 341.7C1074.1 343.4 1072.0 345.0 1070.8 346.7C1069.6 348.4 1068.7 350.3 1067.0 351.8C1065.3 353.3 1062.8 354.9 1060.7 355.6C1058.6 356.3 1056.5 355.8 1054.4 356.2C1052.3 356.6 1050.0 357.2 1048.1 358.1C1046.2 359.1 1044.8 360.5 1043.1 361.9C1041.4 363.3 1039.2 364.9 1038.0 366.3C1036.8 367.7 1036.0 368.3 1036.0 370.0C1036.0 371.7 1037.9 374.4 1038.0 376.3C1038.1 378.2 1038.0 380.1 1036.7 381.4C1035.4 382.7 1032.5 384.1 1030.4 383.9C1028.3 383.7 1026.0 382.0 1024.1 380.1C1022.2 378.2 1020.6 375.0 1019.1 372.6C1017.6 370.2 1016.6 368.1 1015.3 365.7C1014.0 363.3 1012.1 360.4 1011.5 358.1C1010.9 355.8 1012.5 354.5 1011.5 351.8C1010.5 349.1 1007.3 344.0 1005.2 341.7C1003.1 339.4 1001.4 339.4 998.9 337.9C996.4 336.4 992.6 334.8 990.1 332.9C987.6 331.0 985.5 328.7 983.8 326.6C982.1 324.5 981.3 322.8 980.0 320.3C978.7 317.8 977.7 314.1 976.2 311.4C974.7 308.7 972.6 306.4 971.1 303.9C969.6 301.4 967.9 298.6 967.4 296.3C966.9 294.0 967.6 291.7 968.0 290.0C968.4 288.3 969.0 288.0 970.0 286.0C971.0 284.0 971.7 279.8 974.0 278.0Z" fill="#00F7FF" stroke="#1a1a30" stroke-opacity=".25" stroke-width=".8" stroke-dasharray="1 1.6"/>
<path d="M916.9 328.5C919.0 328.5 921.1 330.2 923.2 331.6C925.3 333.0 927.4 335.0 929.5 336.7C931.6 338.4 934.4 340.0 935.8 341.7C937.2 343.4 937.9 344.8 937.7 346.7C937.5 348.6 935.8 351.2 934.6 353.1C933.5 355.0 931.2 356.2 930.8 358.1C930.4 360.0 931.5 362.4 932.1 364.4C932.7 366.4 934.2 367.8 934.6 370.0C935.0 372.2 934.8 374.9 934.6 377.6C934.4 380.3 934.3 384.3 933.3 386.4C932.2 388.5 930.6 388.6 928.3 390.2C926.0 391.8 921.3 395.3 919.4 395.9C917.5 396.5 917.5 395.6 916.9 394.0C916.3 392.4 916.8 388.7 915.7 386.4C914.7 384.1 912.7 381.5 910.6 380.1C908.5 378.7 905.7 378.2 903.0 378.2C900.3 378.2 896.3 381.0 894.2 380.1C892.1 379.2 891.0 375.0 890.4 372.6C889.8 370.2 890.0 367.4 890.4 366.0C890.8 364.6 892.4 365.7 893.0 364.4C893.6 363.1 894.6 360.0 894.2 358.1C893.8 356.2 891.1 355.0 890.4 353.1C889.7 351.2 889.2 348.8 889.8 346.7C890.4 344.6 892.0 342.1 894.2 340.4C896.4 338.7 900.3 338.2 903.0 336.7C905.7 335.2 908.3 333.0 910.6 331.6C912.9 330.2 914.8 328.5 916.9 328.5Z" fill="#00F7FF" stroke="#1a1a30" stroke-opacity=".25" stroke-width=".8" stroke-dasharray="1 1.6"/>
<path d="M953.5 381.4C954.1 381.2 954.5 384.5 954.8 386.4C955.1 388.3 955.0 390.6 955.4 392.7C955.8 394.8 956.3 397.3 957.3 399.0C958.2 400.7 959.4 402.1 961.1 402.8C962.8 403.6 965.3 403.7 967.4 403.5C969.5 403.3 971.8 402.7 973.7 401.6C975.6 400.6 976.4 398.4 978.7 397.2C981.0 396.0 985.0 395.1 987.5 394.6C990.0 394.1 992.4 394.7 993.9 394.0C995.4 393.3 995.6 392.1 996.4 390.2C997.2 388.3 998.2 383.8 998.9 382.7C999.6 381.6 1000.4 382.6 1000.8 383.9C1001.2 385.1 1001.9 388.5 1001.4 390.2C1000.9 391.9 998.9 392.9 997.7 394.0C996.5 395.1 994.9 394.6 994.0 396.5C993.1 398.4 993.2 403.1 992.6 405.4C992.0 407.6 991.2 410.0 990.1 410.0C989.0 410.0 988.2 406.2 986.3 405.4C984.4 404.6 980.5 404.8 978.7 405.4C976.9 406.0 976.0 407.4 975.6 409.1C975.2 410.8 976.7 413.7 976.2 415.4C975.7 417.1 973.9 418.0 972.4 419.2C970.9 420.4 969.1 422.6 967.4 422.4C965.7 422.2 963.6 419.6 962.3 418.0C961.0 416.4 960.8 414.5 959.8 412.9C958.8 411.3 958.1 409.2 956.0 408.5C953.9 407.8 949.9 408.7 947.2 408.5C944.5 408.3 941.7 407.8 939.6 407.2C937.5 406.6 935.0 405.8 934.6 404.7C934.2 403.6 935.6 402.1 937.1 400.3C938.6 398.5 941.1 396.1 943.4 394.0C945.7 391.9 949.3 389.8 951.0 387.7C952.7 385.6 952.9 381.6 953.5 381.4Z" fill="#00F7FF" stroke="#1a1a30" stroke-opacity=".25" stroke-width=".8" stroke-dasharray="1 1.6"/>
<ellipse cx="989.4" cy="357.5" rx="4.2" ry="4" fill="#00F7FF"/>
<path d="M996.4 296.3C997.3 294.5 999.3 293.6 1001.4 293.2C1003.5 292.8 1007.4 292.9 1009.0 293.8C1010.6 294.7 1011.1 297.1 1010.9 298.8C1010.7 300.5 1009.3 302.3 1007.7 303.9C1006.1 305.5 1003.1 307.2 1001.4 308.3C999.7 309.4 998.6 310.9 997.7 310.2C996.8 309.5 996.0 306.2 995.8 303.9C995.6 301.6 995.5 298.1 996.4 296.3Z" fill="#79FF86" stroke="#1a1a30" stroke-opacity=".42" stroke-width=".8" stroke-dasharray="1 1.6"/>
<path d="M1014.0 305.1C1015.1 303.6 1018.3 303.3 1020.4 303.9C1022.5 304.5 1024.6 307.5 1026.7 308.9C1028.8 310.3 1031.1 310.8 1033.0 312.1C1034.9 313.4 1037.0 314.5 1038.0 316.5C1039.0 318.5 1039.3 321.7 1039.3 324.0C1039.3 326.3 1037.4 328.8 1038.0 330.4C1038.6 332.0 1041.0 332.7 1043.1 333.5C1045.2 334.3 1048.1 334.4 1050.6 335.4C1053.1 336.3 1056.2 337.9 1058.2 339.2C1060.2 340.5 1062.4 341.8 1062.6 343.0C1062.8 344.2 1061.1 345.4 1059.5 346.7C1057.9 347.9 1055.4 349.6 1053.1 350.5C1050.8 351.4 1047.7 351.5 1045.6 352.4C1043.5 353.2 1042.2 354.2 1040.5 355.6C1038.8 357.0 1037.4 359.5 1035.5 360.6C1033.6 361.7 1031.3 362.4 1029.0 362.0C1026.7 361.6 1023.7 359.4 1021.6 358.1C1019.5 356.8 1018.1 356.2 1016.6 354.3C1015.1 352.4 1013.8 349.0 1012.8 346.7C1011.8 344.4 1011.6 342.7 1010.3 340.4C1009.0 338.1 1005.8 334.8 1005.2 332.9C1004.6 331.0 1005.2 330.2 1006.5 329.1C1007.8 328.1 1011.3 328.1 1012.8 326.6C1014.3 325.1 1015.1 322.6 1015.3 320.3C1015.5 318.0 1014.2 315.2 1014.0 312.7C1013.8 310.2 1012.9 306.6 1014.0 305.1Z" fill="#79FF86" stroke="#1a1a30" stroke-opacity=".42" stroke-width=".8" stroke-dasharray="1 1.6"/>
<path d="M916.9 335.4C918.8 335.0 919.9 338.9 922.0 340.4C924.1 341.9 928.5 342.5 929.5 344.2C930.5 345.9 928.9 348.4 928.3 350.5C927.7 352.6 926.3 354.5 925.7 356.8C925.1 359.1 924.7 362.5 924.5 364.4C924.3 366.3 924.9 366.9 924.5 368.0C924.1 369.1 923.5 370.2 922.0 371.3C920.5 372.4 918.0 374.7 915.7 374.5C913.4 374.3 910.0 371.4 908.1 370.0C906.2 368.6 905.1 366.9 904.3 366.0C903.4 365.1 903.4 366.1 903.0 364.4C902.6 362.7 901.8 358.3 901.8 355.6C901.8 352.9 901.5 350.1 903.0 348.0C904.5 345.9 908.3 345.1 910.6 343.0C912.9 340.9 915.0 335.8 916.9 335.4Z" fill="#79FF86" stroke="#1a1a30" stroke-opacity=".42" stroke-width=".8" stroke-dasharray="1 1.6"/>
<path d="M1017.8 324.0C1019.1 322.6 1020.8 321.6 1022.9 320.9C1025.0 320.2 1028.5 319.3 1030.4 319.6C1032.3 319.9 1033.5 321.0 1034.2 322.8C1035.0 324.6 1035.1 328.1 1034.9 330.4C1034.7 332.7 1033.5 334.4 1033.0 336.7C1032.5 339.0 1031.7 341.9 1031.7 344.2C1031.7 346.5 1032.2 348.8 1033.0 350.5C1033.8 352.2 1036.5 353.2 1036.7 354.3C1036.9 355.4 1035.5 356.8 1034.2 356.8C1033.0 356.8 1031.1 354.9 1029.2 354.3C1027.3 353.7 1024.8 353.7 1022.9 353.1C1021.0 352.5 1019.2 352.0 1017.8 350.5C1016.4 349.0 1015.3 346.5 1014.7 344.2C1014.1 341.9 1013.9 339.2 1014.0 336.7C1014.1 334.2 1014.7 331.2 1015.3 329.1C1015.9 327.0 1016.5 325.4 1017.8 324.0Z" fill="#FAFF05" stroke="#1a1a30" stroke-opacity=".42" stroke-width=".8" stroke-dasharray="1 1.6"/>
<ellipse cx="1048.1" cy="343" rx="9" ry="6" fill="#FAFF05" stroke="#1a1a30" stroke-opacity=".42" stroke-width=".8" stroke-dasharray="1 1.6"/>
<ellipse cx="916.3" cy="358.1" rx="4.4" ry="6.3" fill="#FAFF05" stroke="#1a1a30" stroke-opacity=".42" stroke-width=".8" stroke-dasharray="1 1.6"/>
<ellipse cx="1022.2" cy="339.8" rx="5.7" ry="12" fill="#FF8200" stroke="#1a1a30" stroke-opacity=".42" stroke-width=".8" stroke-dasharray="1 1.6"/>
<ellipse cx="1045.3" cy="343" rx="2" ry="2" fill="#FF8200"/>
<ellipse cx="1021.9" cy="341.7" rx="3.5" ry="7.6" fill="#FF0200"/>
<ellipse cx="1021.8" cy="343" rx="1.8" ry="4" fill="#B00000"/>
<ellipse cx="982.5" cy="346" rx="3" ry="2.6" fill="#0000C8"/>
<ellipse cx="1000.5" cy="347.5" rx="3" ry="2.6" fill="#0000C8"/>
<ellipse cx="1003.5" cy="362.5" rx="3" ry="2.6" fill="#0000C8"/>
<ellipse cx="1051.6" cy="325.4" rx="3" ry="2.6" fill="#0000C8"/></g>
<path d="M84.4 18.6L89.6 28.0H79.2ZM81.6 28.2L86.8 37.6H76.4ZM120.2 31.8L125.4 41.2H115.0ZM133.0 34.4L138.2 43.8H127.8ZM173.4 40.8L178.6 50.2H168.2ZM164.2 47.8L169.4 57.2H159.0ZM296.8 17.0L302.0 26.4H291.6ZM250.6 44.6L255.8 54.0H245.4ZM213.6 54.6L218.8 64.0H208.4ZM63.4 74.2L68.6 83.6H58.2ZM92.0 82.2L97.2 91.6H86.8ZM153.0 77.8L158.2 87.2H147.8ZM234.0 85.8L239.2 95.2H228.8ZM244.4 86.6L249.6 96.0H239.2ZM285.0 86.4L290.2 95.8H279.8ZM294.5 90.0L299.7 99.4H289.3ZM74.4 111.6L79.6 121.0H69.2ZM134.4 115.8L139.6 125.2H129.2ZM197.6 115.8L202.8 125.2H192.4ZM286.8 106.4L292.0 115.8H281.6ZM227.9 132.2L233.1 141.6H222.7ZM255.6 138.2L260.8 147.6H250.4ZM307.0 110.6L312.2 120.0H301.8ZM470.4 36.2L475.6 45.6H465.2ZM477.4 62.6L482.6 72.0H472.2ZM370.4 75.2L375.6 84.6H365.2ZM308.0 100.6L313.2 110.0H302.8ZM343.0 122.2L348.2 131.6H337.8ZM342.6 132.0L347.8 141.4H337.4ZM90.0 157.2L95.2 166.6H84.8ZM231.0 158.6L236.2 168.0H225.8ZM287.2 171.4L292.4 180.8H282.0ZM261.4 187.6L266.6 197.0H256.2ZM145.2 191.2L150.4 200.6H140.0ZM111.0 196.6L116.2 206.0H105.8ZM178.8 198.0L184.0 207.4H173.6ZM294.2 196.6L299.4 206.0H289.0ZM74.0 208.0L79.2 217.4H68.8ZM240.4 204.6L245.6 214.0H235.2ZM278.8 220.4L284.0 229.8H273.6ZM162.2 222.4L167.4 231.8H157.0ZM192.0 235.2L197.2 244.6H186.8ZM130.4 250.2L135.6 259.6H125.2ZM255.4 251.8L260.6 261.2H250.2ZM210.0 257.2L215.2 266.6H204.8ZM172.4 270.2L177.6 279.6H167.2ZM270.6 268.6L275.8 278.0H265.4ZM311.4 154.6L316.6 164.0H306.2ZM398.6 159.6L403.8 169.0H393.4ZM440.6 166.2L445.8 175.6H435.4ZM478.0 172.2L483.2 181.6H472.8ZM497.6 179.6L502.8 189.0H492.4ZM347.6 174.8L352.8 184.2H342.4ZM462.4 191.2L467.6 200.6H457.2ZM499.6 219.4L504.8 228.8H494.4ZM320.0 224.0L325.2 233.4H314.8ZM363.2 245.2L368.4 254.6H358.0ZM400.2 243.8L405.4 253.2H395.0ZM472.0 250.0L477.2 259.4H466.8ZM494.4 261.2L499.6 270.6H489.2ZM321.0 262.7L326.2 272.1H315.8ZM451.2 270.2L456.4 279.6H446.0ZM100.6 290.2L105.8 299.6H95.4ZM237.4 293.6L242.6 303.0H232.2ZM161.0 314.2L166.2 323.6H155.8ZM252.6 321.8L257.8 331.2H247.4ZM64.0 336.2L69.2 345.6H58.8ZM123.2 340.6L128.4 350.0H118.0ZM294.8 343.8L300.0 353.2H289.6ZM282.2 360.2L287.4 369.6H277.0ZM189.4 366.6L194.6 376.0H184.2ZM140.6 373.6L145.8 383.0H135.4ZM67.2 375.6L72.4 385.0H62.0ZM286.2 373.8L291.4 383.2H281.0ZM293.5 384.2L298.7 393.6H288.3ZM205.6 393.2L210.8 402.6H200.4ZM337.4 282.6L342.6 292.0H332.2ZM431.2 282.2L436.4 291.6H426.0ZM393.6 310.8L398.8 320.2H388.4ZM442.0 308.8L447.2 318.2H436.8ZM499.4 312.6L504.6 322.0H494.2ZM365.2 319.8L370.4 329.2H360.0ZM444.0 338.6L449.2 348.0H438.8ZM325.6 343.2L330.8 352.6H320.4ZM317.6 350.2L322.8 359.6H312.4ZM345.6 354.8L350.8 364.2H340.4ZM421.2 358.8L426.4 368.2H416.0ZM454.8 362.8L460.0 372.2H449.6ZM388.0 370.8L393.2 380.2H382.8ZM499.4 371.8L504.6 381.2H494.2ZM407.2 381.2L412.4 390.6H402.0ZM363.0 386.2L368.2 395.6H357.8ZM430.0 385.7L435.2 395.1H424.8ZM403.2 391.2L408.4 400.6H398.0ZM301.4 408.0L306.6 417.4H296.2ZM235.6 420.8L240.8 430.2H230.4ZM84.0 469.6L89.2 479.0H78.8ZM159.2 520.2L164.4 529.6H154.0ZM320.6 395.6L325.8 405.0H315.4ZM389.8 397.2L395.0 406.6H384.6ZM445.2 402.2L450.4 411.6H440.0ZM349.2 410.8L354.4 420.2H344.0ZM429.6 408.2L434.8 417.6H424.4ZM507.6 412.6L512.8 422.0H502.4ZM402.6 416.2L407.8 425.6H397.4ZM327.6 431.2L332.8 440.6H322.4ZM363.0 429.6L368.2 439.0H357.8ZM347.4 437.6L352.6 447.0H342.2ZM403.0 437.6L408.2 447.0H397.8ZM407.6 444.2L412.8 453.6H402.4ZM462.0 444.6L467.2 454.0H456.8ZM496.0 443.6L501.2 453.0H490.8ZM381.2 450.4L386.4 459.8H376.0ZM368.8 456.6L374.0 466.0H363.6ZM413.6 457.6L418.8 467.0H408.4ZM455.0 465.6L460.2 475.0H449.8ZM467.4 464.2L472.6 473.6H462.2ZM334.4 468.2L339.6 477.6H329.2ZM391.0 469.8L396.2 479.2H385.8ZM402.4 473.2L407.6 482.6H397.2ZM354.0 474.2L359.2 483.6H348.8ZM465.6 483.7L470.8 493.1H460.4ZM487.4 486.7L492.6 496.1H482.2ZM424.0 489.4L429.2 498.8H418.8ZM324.0 494.2L329.2 503.6H318.8ZM347.8 496.2L353.0 505.6H342.6ZM444.4 504.6L449.6 514.0H439.2ZM496.4 503.2L501.6 512.6H491.2ZM371.8 508.0L377.0 517.4H366.6ZM389.9 513.7L395.1 523.1H384.7ZM307.4 522.6L312.6 532.0H302.2ZM423.2 524.6L428.4 534.0H418.0ZM478.0 531.2L483.2 540.6H472.8ZM431.2 540.6L436.4 550.0H426.0ZM395.6 544.2L400.8 553.6H390.4ZM459.2 545.6L464.4 555.0H454.0ZM506.0 550.8L511.2 560.2H500.8ZM482.0 556.8L487.2 566.2H476.8ZM63.6 556.2L68.8 565.6H58.4ZM262.6 563.8L267.8 573.2H257.4ZM58.0 588.8L63.2 598.2H52.8Z" fill="#FFE500" stroke="#EE3A00" stroke-width="1" stroke-linejoin="round"/>
<path d="M764.7 18.6L769.9 28.0H759.5ZM761.9 28.2L767.1 37.6H756.7ZM800.6 31.8L805.8 41.2H795.4ZM813.4 34.4L818.6 43.8H808.2ZM854.0 40.8L859.2 50.2H848.8ZM844.7 47.8L849.9 57.2H839.5ZM977.7 17.0L982.9 26.4H972.5ZM931.4 44.6L936.6 54.0H926.2ZM894.3 54.6L899.5 64.0H889.1ZM743.6 74.2L748.8 83.6H738.4ZM772.3 82.2L777.5 91.6H767.1ZM833.5 77.8L838.7 87.2H828.3ZM914.7 85.8L919.9 95.2H909.5ZM925.2 86.6L930.4 96.0H920.0ZM965.9 86.4L971.1 95.8H960.7ZM975.4 90.0L980.6 99.4H970.2ZM754.7 111.6L759.9 121.0H749.5ZM814.8 115.8L820.0 125.2H809.6ZM878.2 115.8L883.4 125.2H873.0ZM967.7 106.4L972.9 115.8H962.5ZM908.6 132.2L913.8 141.6H903.4ZM936.4 138.2L941.6 147.6H931.2ZM988.0 110.6L993.2 120.0H982.8ZM1151.9 36.2L1157.1 45.6H1146.7ZM1158.9 62.6L1164.1 72.0H1153.7ZM1051.6 75.2L1056.8 84.6H1046.4ZM989.0 100.6L994.2 110.0H983.8ZM1024.1 122.2L1029.3 131.6H1018.9ZM1023.7 132.0L1028.9 141.4H1018.5ZM770.3 157.2L775.5 166.6H765.1ZM911.7 158.6L916.9 168.0H906.5ZM968.1 171.4L973.3 180.8H962.9ZM942.2 187.6L947.4 197.0H937.0ZM825.7 191.2L830.9 200.6H820.5ZM791.4 196.6L796.6 206.0H786.2ZM859.4 198.0L864.6 207.4H854.2ZM975.1 196.6L980.3 206.0H969.9ZM754.3 208.0L759.5 217.4H749.1ZM921.2 204.6L926.4 214.0H916.0ZM959.7 220.4L964.9 229.8H954.5ZM842.7 222.4L847.9 231.8H837.5ZM872.6 235.2L877.8 244.6H867.4ZM810.8 250.2L816.0 259.6H805.6ZM936.2 251.8L941.4 261.2H931.0ZM890.7 257.2L895.9 266.6H885.5ZM853.0 270.2L858.2 279.6H847.8ZM951.5 268.6L956.7 278.0H946.3ZM992.4 154.6L997.6 164.0H987.2ZM1079.9 159.6L1085.1 169.0H1074.7ZM1122.0 166.2L1127.2 175.6H1116.8ZM1159.5 172.2L1164.7 181.6H1154.3ZM1179.2 179.6L1184.4 189.0H1174.0ZM1028.7 174.8L1033.9 184.2H1023.5ZM1143.8 191.2L1149.0 200.6H1138.6ZM1181.2 219.4L1186.4 228.8H1176.0ZM1001.0 224.0L1006.2 233.4H995.8ZM1044.3 245.2L1049.5 254.6H1039.1ZM1081.5 243.8L1086.7 253.2H1076.3ZM1153.5 250.0L1158.7 259.4H1148.3ZM1175.9 261.2L1181.1 270.6H1170.7ZM1002.0 262.7L1007.2 272.1H996.8ZM1132.6 270.2L1137.8 279.6H1127.4ZM780.9 290.2L786.1 299.6H775.7ZM918.2 293.6L923.4 303.0H913.0ZM841.5 314.2L846.7 323.6H836.3ZM933.4 321.8L938.6 331.2H928.2ZM744.2 336.2L749.4 345.6H739.0ZM803.6 340.6L808.8 350.0H798.4ZM975.7 343.8L980.9 353.2H970.5ZM963.1 360.2L968.3 369.6H957.9ZM870.0 366.6L875.2 376.0H864.8ZM821.1 373.6L826.3 383.0H815.9ZM747.4 375.6L752.6 385.0H742.2ZM967.1 373.8L972.3 383.2H961.9ZM974.4 384.2L979.6 393.6H969.2ZM886.3 393.2L891.5 402.6H881.1ZM1018.5 282.6L1023.7 292.0H1013.3ZM1112.6 282.2L1117.8 291.6H1107.4ZM1074.8 310.8L1080.0 320.2H1069.6ZM1123.4 308.8L1128.6 318.2H1118.2ZM1181.0 312.6L1186.2 322.0H1175.8ZM1046.3 319.8L1051.5 329.2H1041.1ZM1125.4 338.6L1130.6 348.0H1120.2ZM1006.6 343.2L1011.8 352.6H1001.4ZM998.6 350.2L1003.8 359.6H993.4ZM1026.7 354.8L1031.9 364.2H1021.5ZM1102.5 358.8L1107.7 368.2H1097.3ZM1136.2 362.8L1141.4 372.2H1131.0ZM1069.2 370.8L1074.4 380.2H1064.0ZM1181.0 371.8L1186.2 381.2H1175.8ZM1088.5 381.2L1093.7 390.6H1083.3ZM1044.1 386.2L1049.3 395.6H1038.9ZM1111.3 385.7L1116.5 395.1H1106.1ZM1084.5 391.2L1089.7 400.6H1079.3ZM982.4 408.0L987.6 417.4H977.2ZM916.4 420.8L921.6 430.2H911.2ZM764.3 469.6L769.5 479.0H759.1ZM839.7 520.2L844.9 529.6H834.5ZM1001.6 395.6L1006.8 405.0H996.4ZM1071.0 397.2L1076.2 406.6H1065.8ZM1126.6 402.2L1131.8 411.6H1121.4ZM1030.3 410.8L1035.5 420.2H1025.1ZM1110.9 408.2L1116.1 417.6H1105.7ZM1189.2 412.6L1194.4 422.0H1184.0ZM1083.9 416.2L1089.1 425.6H1078.7ZM1008.6 431.2L1013.8 440.6H1003.4ZM1044.1 429.6L1049.3 439.0H1038.9ZM1028.5 437.6L1033.7 447.0H1023.3ZM1084.3 437.6L1089.5 447.0H1079.1ZM1088.9 444.2L1094.1 453.6H1083.7ZM1143.4 444.6L1148.6 454.0H1138.2ZM1177.6 443.6L1182.8 453.0H1172.4ZM1062.4 450.4L1067.6 459.8H1057.2ZM1050.0 456.6L1055.2 466.0H1044.8ZM1094.9 457.6L1100.1 467.0H1089.7ZM1136.4 465.6L1141.6 475.0H1131.2ZM1148.9 464.2L1154.1 473.6H1143.7ZM1015.5 468.2L1020.7 477.6H1010.3ZM1072.2 469.8L1077.4 479.2H1067.0ZM1083.7 473.2L1088.9 482.6H1078.5ZM1035.1 474.2L1040.3 483.6H1029.9ZM1147.1 483.7L1152.3 493.1H1141.9ZM1168.9 486.7L1174.1 496.1H1163.7ZM1105.3 489.4L1110.5 498.8H1100.1ZM1005.0 494.2L1010.2 503.6H999.8ZM1028.9 496.2L1034.1 505.6H1023.7ZM1125.8 504.6L1131.0 514.0H1120.6ZM1178.0 503.2L1183.2 512.6H1172.8ZM1053.0 508.0L1058.2 517.4H1047.8ZM1071.1 513.7L1076.3 523.1H1065.9ZM988.4 522.6L993.6 532.0H983.2ZM1104.5 524.6L1109.7 534.0H1099.3ZM1159.5 531.2L1164.7 540.6H1154.3ZM1112.6 540.6L1117.8 550.0H1107.4ZM1076.8 544.2L1082.0 553.6H1071.6ZM1140.6 545.6L1145.8 555.0H1135.4ZM1187.6 550.8L1192.8 560.2H1182.4ZM1163.5 556.8L1168.7 566.2H1158.3ZM743.8 556.2L749.0 565.6H738.6ZM943.4 563.8L948.6 573.2H938.2ZM738.2 588.8L743.4 598.2H733.0Z" fill="#FFE500" stroke="#EE3A00" stroke-width="1" stroke-linejoin="round"/>
<text x="94.85" y="83.4" textLength="44" lengthAdjust="spacingAndGlyphs" font-family="'Liberation Sans', 'Noto Sans CJK SC', sans-serif" font-size="33.5" fill="#fff" stroke="#fff" stroke-width="1.5" stroke-linejoin="round">(a)</text>
<text x="143" y="83.4" textLength="268" lengthAdjust="spacingAndGlyphs" font-family="'Liberation Sans', 'Noto Sans CJK SC', sans-serif" font-size="33.5" fill="#fff" stroke="#fff" stroke-width="1.5" stroke-linejoin="round">水平向平均速度场</text>
<text x="780.2" y="83.4" textLength="43" lengthAdjust="spacingAndGlyphs" font-family="'Liberation Sans', 'Noto Sans CJK SC', sans-serif" font-size="33.5" fill="#fff" stroke="#fff" stroke-width="1.5" stroke-linejoin="round">(b)</text>
<text x="828.3" y="83.4" textLength="234.5" lengthAdjust="spacingAndGlyphs" font-family="'Liberation Sans', 'Noto Sans CJK SC', sans-serif" font-size="33.5" fill="#fff" stroke="#fff" stroke-width="1.5" stroke-linejoin="round">竖向平均速度场</text>
<rect x="524.2" y="23.6" width="22.2" height="581.1999999999999" fill="url(#jet)" stroke="#30203a" stroke-width=".8"/>
<path d="M543.9000000000001 108.7h2.5M524.2 108.7h2.5" stroke="#222" stroke-width=".7" opacity=".6"/>
<path d="M543.9000000000001 193.7h2.5M524.2 193.7h2.5" stroke="#222" stroke-width=".7" opacity=".6"/>
<path d="M543.9000000000001 278.7h2.5M524.2 278.7h2.5" stroke="#222" stroke-width=".7" opacity=".6"/>
<path d="M543.9000000000001 363.7h2.5M524.2 363.7h2.5" stroke="#222" stroke-width=".7" opacity=".6"/>
<path d="M543.9000000000001 448.7h2.5M524.2 448.7h2.5" stroke="#222" stroke-width=".7" opacity=".6"/>
<path d="M543.9000000000001 533.7h2.5M524.2 533.7h2.5" stroke="#222" stroke-width=".7" opacity=".6"/>
<rect x="1205.6" y="23.6" width="22.2" height="581.1999999999999" fill="url(#jet)" stroke="#30203a" stroke-width=".8"/>
<path d="M1225.3 97.4h2.5M1205.6 97.4h2.5" stroke="#222" stroke-width=".7" opacity=".6"/>
<path d="M1225.3 171.1h2.5M1205.6 171.1h2.5" stroke="#222" stroke-width=".7" opacity=".6"/>
<path d="M1225.3 244.79999999999998h2.5M1205.6 244.79999999999998h2.5" stroke="#222" stroke-width=".7" opacity=".6"/>
<path d="M1225.3 318.5h2.5M1205.6 318.5h2.5" stroke="#222" stroke-width=".7" opacity=".6"/>
<path d="M1225.3 392.2h2.5M1205.6 392.2h2.5" stroke="#222" stroke-width=".7" opacity=".6"/>
<path d="M1225.3 465.9h2.5M1205.6 465.9h2.5" stroke="#222" stroke-width=".7" opacity=".6"/>
<path d="M1225.3 539.6h2.5M1205.6 539.6h2.5" stroke="#222" stroke-width=".7" opacity=".6"/>
<text x="57.2" y="624.6" text-anchor="middle" font-family="Liberation Sans, sans-serif" font-size="13.6" fill="#3a3a3a">102.2</text>
<text x="127.4" y="624.6" text-anchor="middle" font-family="Liberation Sans, sans-serif" font-size="13.6" fill="#3a3a3a">102.4</text>
<text x="197.7" y="624.6" text-anchor="middle" font-family="Liberation Sans, sans-serif" font-size="13.6" fill="#3a3a3a">102.6</text>
<text x="267.9" y="624.6" text-anchor="middle" font-family="Liberation Sans, sans-serif" font-size="13.6" fill="#3a3a3a">102.8</text>
<text x="338.1" y="624.6" text-anchor="middle" font-family="Liberation Sans, sans-serif" font-size="13.6" fill="#3a3a3a">103</text>
<text x="408.3" y="624.6" text-anchor="middle" font-family="Liberation Sans, sans-serif" font-size="13.6" fill="#3a3a3a">103.2</text>
<text x="478.6" y="624.6" text-anchor="middle" font-family="Liberation Sans, sans-serif" font-size="13.6" fill="#3a3a3a">103.4</text>
<text x="50.3" y="611.4" text-anchor="end" font-family="Liberation Sans, sans-serif" font-size="13.6" fill="#3a3a3a">35.2</text>
<text x="50.3" y="521.8" text-anchor="end" font-family="Liberation Sans, sans-serif" font-size="13.6" fill="#3a3a3a">35.4</text>
<text x="50.3" y="432.2" text-anchor="end" font-family="Liberation Sans, sans-serif" font-size="13.6" fill="#3a3a3a">35.6</text>
<text x="50.3" y="342.7" text-anchor="end" font-family="Liberation Sans, sans-serif" font-size="13.6" fill="#3a3a3a">35.8</text>
<text x="50.3" y="253.1" text-anchor="end" font-family="Liberation Sans, sans-serif" font-size="13.6" fill="#3a3a3a">36</text>
<text x="50.3" y="163.5" text-anchor="end" font-family="Liberation Sans, sans-serif" font-size="13.6" fill="#3a3a3a">36.2</text>
<text x="50.3" y="73.9" text-anchor="end" font-family="Liberation Sans, sans-serif" font-size="13.6" fill="#3a3a3a">36.4</text>
<text x="551.8" y="27.9" font-family="Liberation Sans, sans-serif" font-size="11.8" fill="#3a3a3a">70</text>
<text x="551.8" y="112.9" font-family="Liberation Sans, sans-serif" font-size="11.8" fill="#3a3a3a">60</text>
<text x="551.8" y="197.9" font-family="Liberation Sans, sans-serif" font-size="11.8" fill="#3a3a3a">50</text>
<text x="551.8" y="282.9" font-family="Liberation Sans, sans-serif" font-size="11.8" fill="#3a3a3a">40</text>
<text x="551.8" y="367.9" font-family="Liberation Sans, sans-serif" font-size="11.8" fill="#3a3a3a">30</text>
<text x="551.8" y="452.9" font-family="Liberation Sans, sans-serif" font-size="11.8" fill="#3a3a3a">20</text>
<text x="551.8" y="537.9" font-family="Liberation Sans, sans-serif" font-size="11.8" fill="#3a3a3a">10</text>
<text x="738.0" y="624.6" text-anchor="middle" font-family="Liberation Sans, sans-serif" font-size="13.6" fill="#3a3a3a">102.2</text>
<text x="808.2" y="624.6" text-anchor="middle" font-family="Liberation Sans, sans-serif" font-size="13.6" fill="#3a3a3a">102.4</text>
<text x="878.5" y="624.6" text-anchor="middle" font-family="Liberation Sans, sans-serif" font-size="13.6" fill="#3a3a3a">102.6</text>
<text x="948.7" y="624.6" text-anchor="middle" font-family="Liberation Sans, sans-serif" font-size="13.6" fill="#3a3a3a">102.8</text>
<text x="1018.9" y="624.6" text-anchor="middle" font-family="Liberation Sans, sans-serif" font-size="13.6" fill="#3a3a3a">103</text>
<text x="1089.2" y="624.6" text-anchor="middle" font-family="Liberation Sans, sans-serif" font-size="13.6" fill="#3a3a3a">103.2</text>
<text x="1159.4" y="624.6" text-anchor="middle" font-family="Liberation Sans, sans-serif" font-size="13.6" fill="#3a3a3a">103.4</text>
<text x="731.1" y="611.4" text-anchor="end" font-family="Liberation Sans, sans-serif" font-size="13.6" fill="#3a3a3a">35.2</text>
<text x="731.1" y="521.8" text-anchor="end" font-family="Liberation Sans, sans-serif" font-size="13.6" fill="#3a3a3a">35.4</text>
<text x="731.1" y="432.2" text-anchor="end" font-family="Liberation Sans, sans-serif" font-size="13.6" fill="#3a3a3a">35.6</text>
<text x="731.1" y="342.7" text-anchor="end" font-family="Liberation Sans, sans-serif" font-size="13.6" fill="#3a3a3a">35.8</text>
<text x="731.1" y="253.1" text-anchor="end" font-family="Liberation Sans, sans-serif" font-size="13.6" fill="#3a3a3a">36</text>
<text x="731.1" y="163.5" text-anchor="end" font-family="Liberation Sans, sans-serif" font-size="13.6" fill="#3a3a3a">36.2</text>
<text x="731.1" y="73.9" text-anchor="end" font-family="Liberation Sans, sans-serif" font-size="13.6" fill="#3a3a3a">36.4</text>
<text x="1233.2" y="27.9" font-family="Liberation Sans, sans-serif" font-size="11.8" fill="#3a3a3a">80</text>
<text x="1233.2" y="101.6" font-family="Liberation Sans, sans-serif" font-size="11.8" fill="#3a3a3a">70</text>
<text x="1233.2" y="175.3" font-family="Liberation Sans, sans-serif" font-size="11.8" fill="#3a3a3a">60</text>
<text x="1233.2" y="249.0" font-family="Liberation Sans, sans-serif" font-size="11.8" fill="#3a3a3a">50</text>
<text x="1233.2" y="322.7" font-family="Liberation Sans, sans-serif" font-size="11.8" fill="#3a3a3a">40</text>
<text x="1233.2" y="396.4" font-family="Liberation Sans, sans-serif" font-size="11.8" fill="#3a3a3a">30</text>
<text x="1233.2" y="470.1" font-family="Liberation Sans, sans-serif" font-size="11.8" fill="#3a3a3a">20</text>
<text x="1233.2" y="543.8" font-family="Liberation Sans, sans-serif" font-size="11.8" fill="#3a3a3a">10</text>
<text x="250.8" y="16" textLength="48.5" lengthAdjust="spacingAndGlyphs" font-family="Liberation Sans, sans-serif" font-weight="bold" font-size="16" fill="#EE44EE">PGV-XY</text>
<text x="302.3" y="15.6" font-family="'Liberation Sans', 'Noto Sans CJK SC', sans-serif" font-size="15.5" fill="#EE44EE" stroke="#EE44EE" stroke-width="0.5">向</text>
<text x="936.7" y="16" textLength="41.2" lengthAdjust="spacingAndGlyphs" font-family="Liberation Sans, sans-serif" font-weight="bold" font-size="16" fill="#EE44EE">PGV-Z</text>
<text x="979.7" y="15.6" font-family="'Liberation Sans', 'Noto Sans CJK SC', sans-serif" font-size="15.5" fill="#EE44EE" stroke="#EE44EE" stroke-width="0.5">向</text>
<text x="271.2" y="643.5" font-family="'Liberation Serif', 'Noto Serif CJK SC', serif" font-style="italic" font-size="13.4" fill="#777">经度</text>
<g transform="translate(15.5 314) rotate(-90)"><text x="-13.4" y="0" font-family="'Liberation Serif', 'Noto Serif CJK SC', serif" font-style="italic" font-size="13.4" fill="#777">纬度</text></g>
<text x="952.9" y="643.5" font-family="'Liberation Serif', 'Noto Serif CJK SC', serif" font-style="italic" font-size="13.4" fill="#777">经度</text>
<g transform="translate(697.2 314) rotate(-90)"><text x="-13.4" y="0" font-family="'Liberation Serif', 'Noto Serif CJK SC', serif" font-style="italic" font-size="13.4" fill="#777">纬度</text></g>
</svg></body></html>
